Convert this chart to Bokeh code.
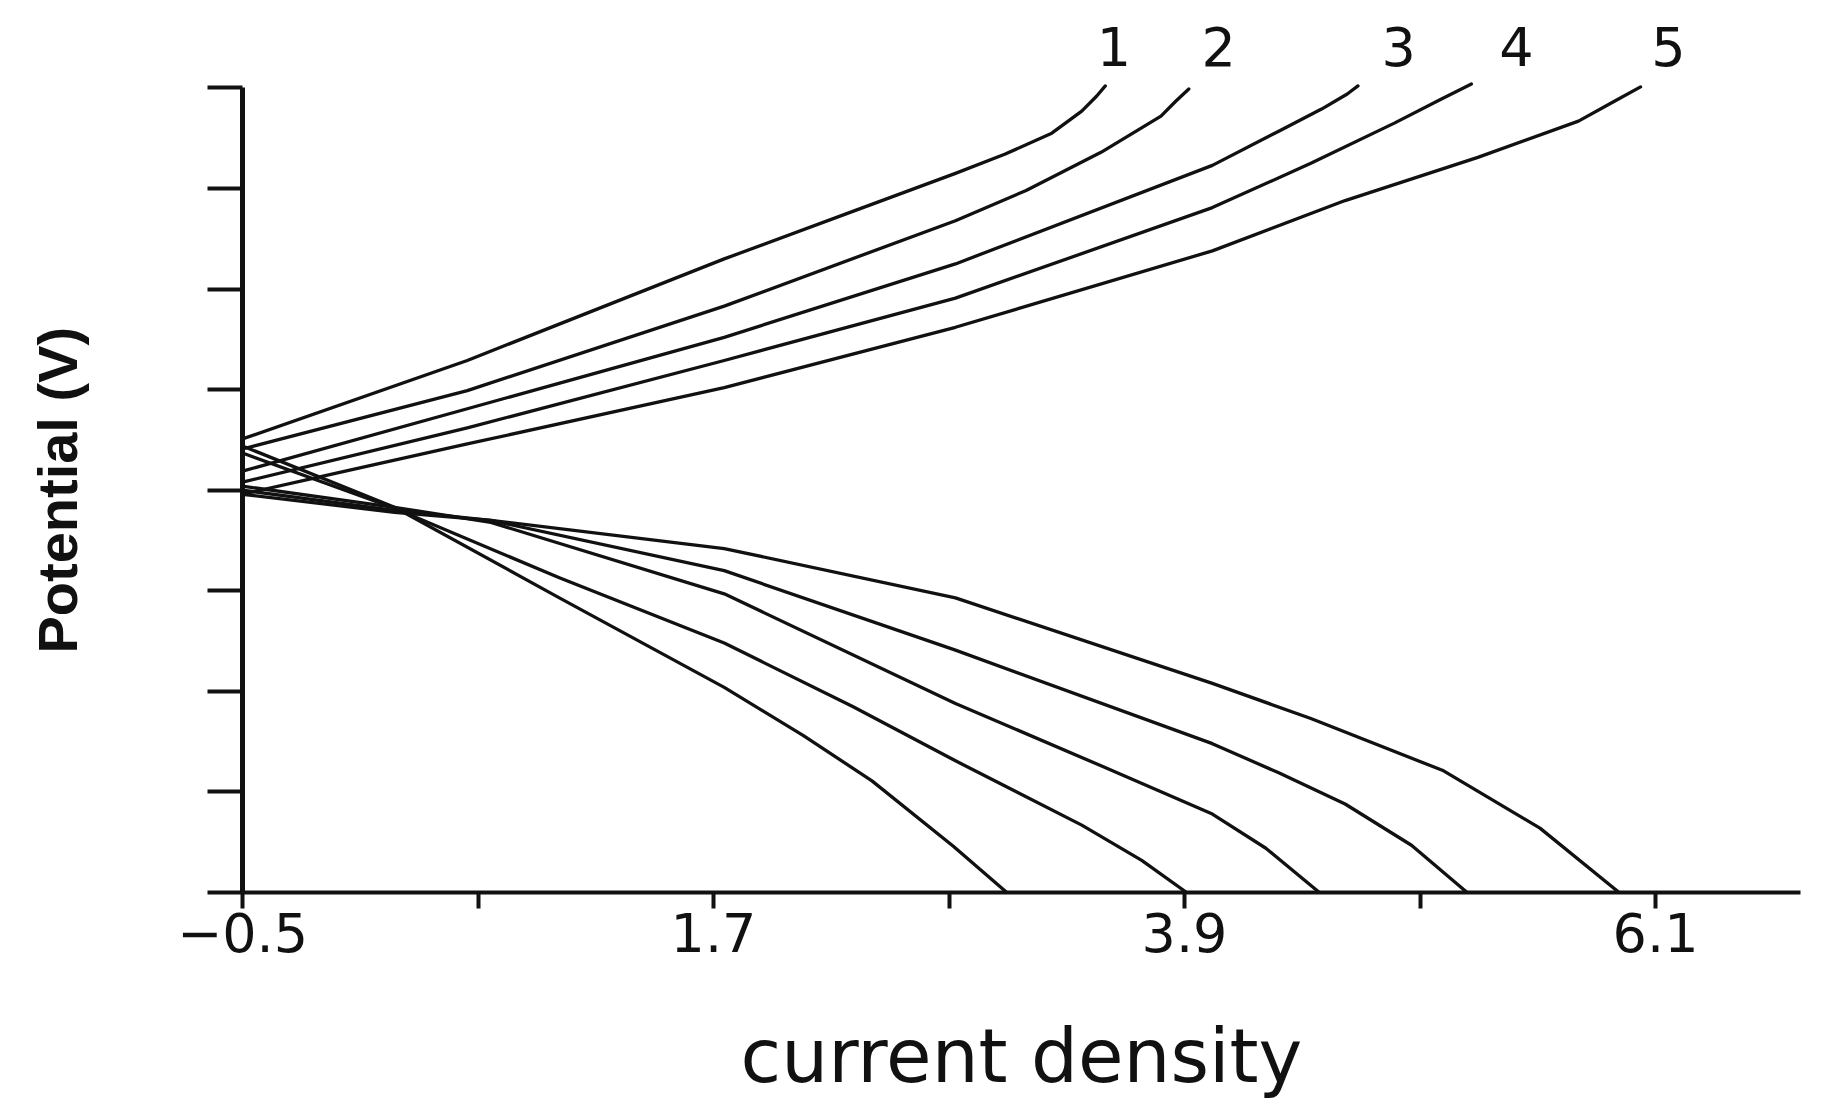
import math
from bokeh.plotting import figure
from bokeh.layouts import row
from bokeh.models import FixedTicker, CustomJSTickFormatter
from bokeh.embed import file_html
from bokeh.resources import INLINE
from bokeh.core.properties import value

# ---------------- data ----------------
curve_names = ["1", "2", "3", "4", "5"]

# anodic (upper) branches: current density vs potential (tick units)
u1_x = [-0.50, 0.55, 1.75, 2.36, 2.83, 3.06, 3.28, 3.42, 3.49, 3.53]
u1_y = [4.51, 5.29, 6.30, 6.78, 7.15, 7.34, 7.55, 7.77, 7.92, 8.02]
u2_x = [-0.50, 0.55, 1.75, 2.83, 3.16, 3.51, 3.79, 3.86, 3.92]
u2_y = [4.41, 4.99, 5.83, 6.68, 6.98, 7.36, 7.72, 7.87, 7.99]
u3_x = [-0.50, 0.55, 1.75, 2.83, 4.03, 4.34, 4.54, 4.66, 4.71]
u3_y = [4.19, 4.81, 5.52, 6.25, 7.23, 7.57, 7.79, 7.94, 8.02]
u4_x = [-0.50, 0.55, 1.75, 2.83, 4.03, 4.49, 4.88, 5.10, 5.24]
u4_y = [4.08, 4.62, 5.29, 5.91, 6.81, 7.25, 7.65, 7.89, 8.04]
u5_x = [-0.50, -0.02, 0.55, 1.75, 2.83, 4.03, 4.65, 5.27, 5.74, 5.91, 6.03]
u5_y = [3.96, 4.19, 4.46, 5.02, 5.62, 6.38, 6.88, 7.31, 7.67, 7.87, 8.01]

# cathodic (lower) branches
l1_x = [-0.50, 0.21, 0.98, 1.75, 2.12, 2.44, 2.82, 3.07]
l1_y = [4.44, 3.83, 2.93, 2.04, 1.56, 1.11, 0.46, 0.00]
l2_x = [-0.50, 0.21, 0.98, 1.75, 2.35, 2.83, 3.42, 3.70, 3.91]
l2_y = [4.37, 3.82, 3.13, 2.48, 1.85, 1.31, 0.67, 0.32, 0.00]
l3_x = [-0.50, 0.21, 0.66, 1.75, 2.83, 3.51, 4.03, 4.28, 4.53]
l3_y = [4.04, 3.83, 3.68, 2.97, 1.88, 1.26, 0.78, 0.44, 0.00]
l4_x = [-0.50, 0.21, 0.66, 1.75, 2.83, 4.03, 4.34, 4.65, 4.96, 5.22]
l4_y = [4.00, 3.80, 3.70, 3.20, 2.41, 1.48, 1.19, 0.88, 0.47, 0.00]
l5_x = [-0.50, 0.21, 0.66, 1.75, 2.83, 4.03, 4.49, 5.11, 5.56, 5.93]
l5_y = [3.96, 3.78, 3.70, 3.42, 2.93, 2.08, 1.73, 1.21, 0.64, 0.00]

x_major_ticks = [-0.5, 1.7, 3.9, 6.1]
x_minor_ticks = [0.6, 2.8, 5.0]
y_ticks = [0, 1, 2, 3, 4, 5, 6, 7, 8]

x_title = "current density"
y_title = "Potential (V)"

# placement of the curve numbers and of the y title
label_x = [3.57, 4.06, 4.90, 5.45, 6.16]
label_y = [8.41, 8.41, 8.41, 8.41, 8.41]
y_title_x = [0.38]
y_title_y = [4.00]

# ---------------- layout constants ----------------
INK = "#111111"
TOTAL_W, H = 1816, 1108
SIDE_W = 150
TOP, BOTTOM = 12, 216
Y_RANGE = (0, 8.75)

# narrow panel holding the vertical title
side = figure(width=SIDE_W, height=H, x_range=(0, 1), y_range=Y_RANGE,
              output_backend="svg", toolbar_location=None,
              min_border_left=0, min_border_right=0,
              min_border_top=TOP, min_border_bottom=BOTTOM)
side.axis.visible = False
side.grid.visible = False
side.outline_line_color = None
side.text(x=y_title_x, y=y_title_y, text=[y_title], angle=math.pi / 2,
          text_font=value("Liberation Sans"), text_font_size="56px",
          text_font_style="bold", text_align="center", text_baseline="middle",
          text_color=INK)

# main plot
p = figure(width=TOTAL_W - SIDE_W, height=H,
           x_range=(-0.5, 6.777), y_range=Y_RANGE,
           output_backend="svg", toolbar_location=None,
           min_border_left=242 - SIDE_W, min_border_right=16,
           min_border_top=TOP, min_border_bottom=BOTTOM)
p.xgrid.visible = False
p.ygrid.visible = False
p.outline_line_color = None

xa = p.xaxis[0]
xa.ticker = FixedTicker(ticks=x_major_ticks, minor_ticks=x_minor_ticks)
xa.axis_line_width = 4
xa.axis_line_color = INK
xa.major_tick_line_width = 4
xa.minor_tick_line_width = 4
xa.major_tick_line_color = INK
xa.minor_tick_line_color = INK
xa.major_tick_out = 16
xa.major_tick_in = 0
xa.minor_tick_out = 16
xa.minor_tick_in = 0
xa.major_label_text_font = "DejaVu Sans"
xa.major_label_text_font_size = "54px"
xa.major_label_text_color = INK
xa.major_label_standoff = 4
xa.axis_label = x_title
xa.axis_label_text_font = "DejaVu Sans"
xa.axis_label_text_font_size = "74px"
xa.axis_label_text_font_style = "normal"
xa.axis_label_text_color = INK
xa.axis_label_standoff = 58

ya = p.yaxis[0]
ya.ticker = FixedTicker(ticks=y_ticks)
ya.bounds = (0, 8)
ya.axis_line_width = 5
ya.axis_line_color = INK
ya.major_tick_line_width = 4
ya.major_tick_line_color = INK
ya.major_tick_out = 35
ya.major_tick_in = 0
ya.minor_tick_out = 0
ya.minor_tick_in = 0
ya.formatter = CustomJSTickFormatter(code="return ''")
ya.major_label_standoff = 0

for xs, ys in [(u1_x, u1_y), (u2_x, u2_y), (u3_x, u3_y), (u4_x, u4_y), (u5_x, u5_y),
               (l1_x, l1_y), (l2_x, l2_y), (l3_x, l3_y), (l4_x, l4_y), (l5_x, l5_y)]:
    p.line(xs, ys, line_width=3.3, line_color=INK, line_join="round", line_cap="round")

p.text(x=label_x, y=label_y, text=curve_names,
       text_font=value("DejaVu Sans"), text_font_size="54px",
       text_align="center", text_baseline="middle", text_color=INK)

layout = row(side, p, spacing=0)
open("out.html", "w").write(file_html(layout, INLINE))
